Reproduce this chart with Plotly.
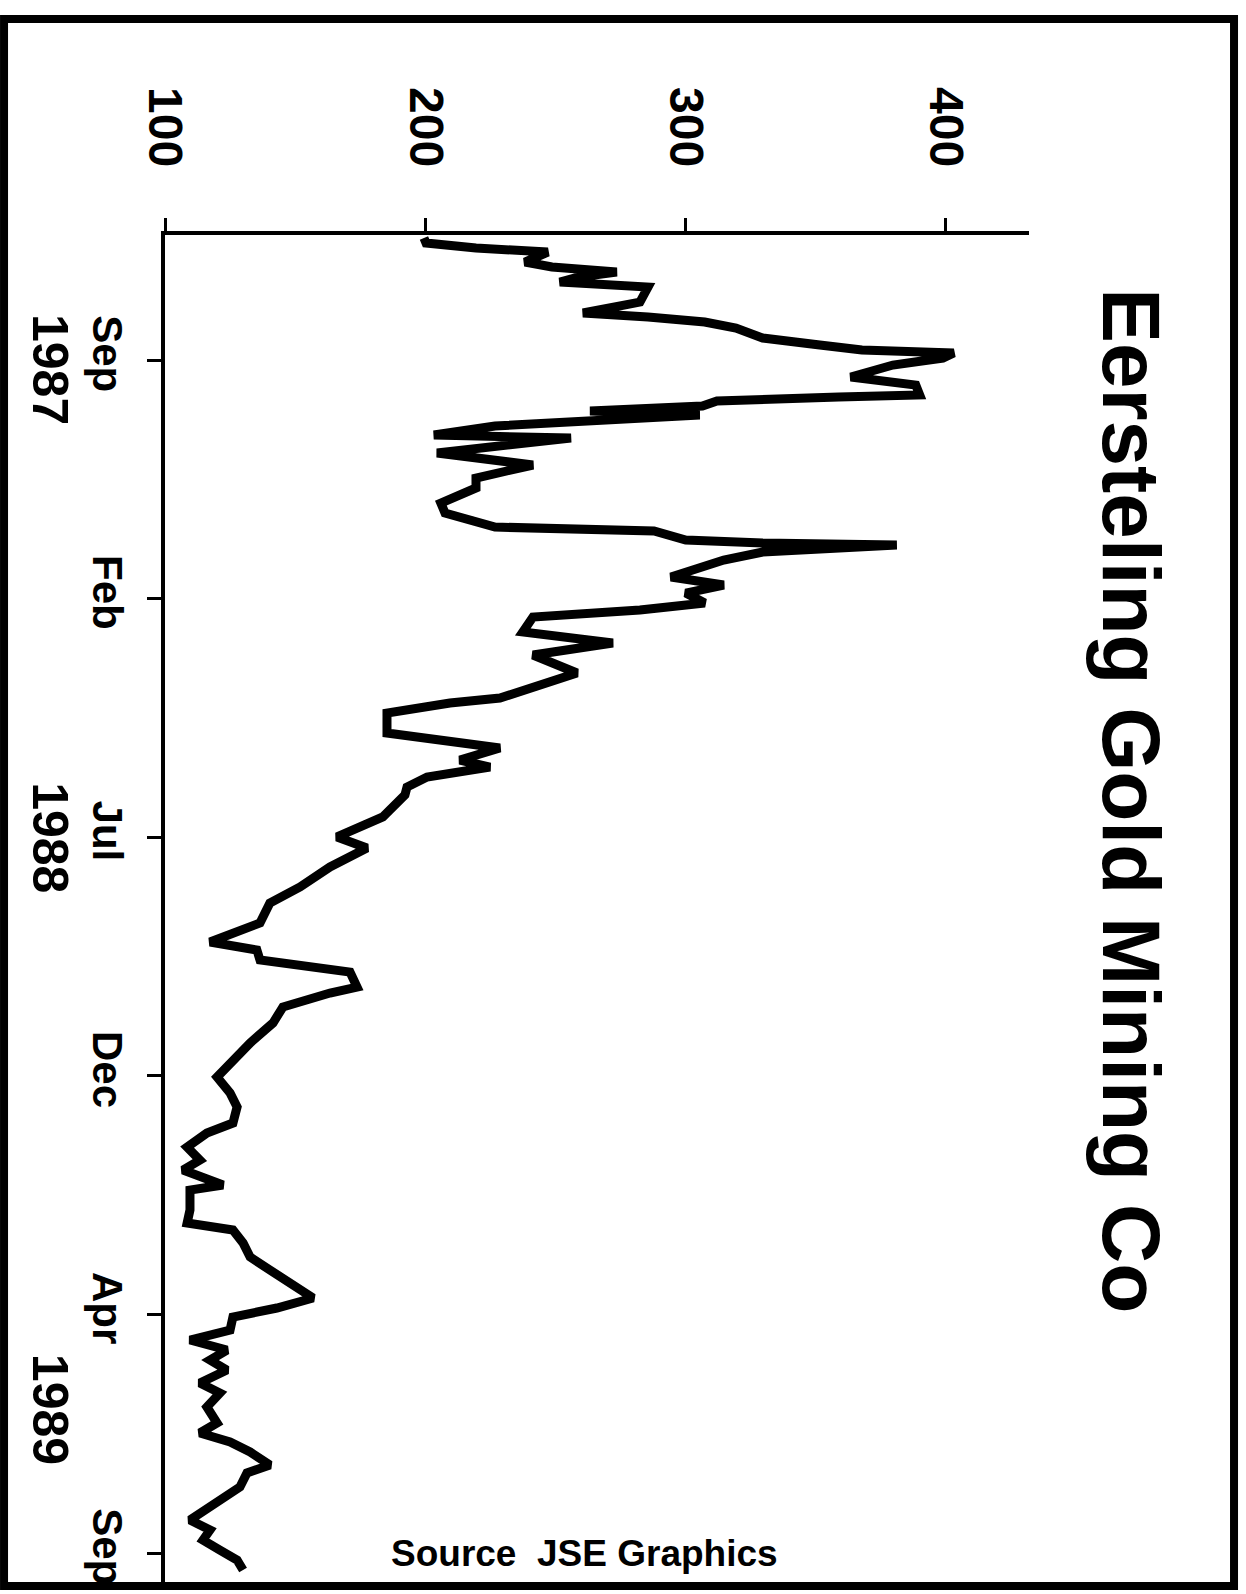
import plotly.graph_objects as go

# time in tick-interval months from Sep 1987 (ticks evenly spaced on the original)
t = [-2.557, -2.452, -2.347, -2.263, -2.054, -1.949, -1.844, -1.739, -1.634, -1.530,
     -1.215, -0.985, -0.901, -0.796, -0.671, -0.461, -0.314, -0.210, -0.147, -0.042,
     0.105, 0.356, 0.524, 0.733, 0.775, 0.817, 0.859, 0.964, 1.069, 1.153, 1.300, 1.383,
     1.572, 1.634, 1.949, 2.200, 2.472, 2.682, 2.997, 3.206, 3.500, 3.541, 3.583, 3.772,
     3.835, 3.877, 4.023, 4.191, 4.547, 4.715, 4.883, 5.092, 5.239, 5.386, 5.700, 5.930,
     6.182, 6.559, 6.852, 7.083, 7.188, 7.397, 7.816, 7.963, 8.131, 8.382, 8.529, 8.738,
     8.948, 9.115, 9.576, 9.995, 10.226, 10.624, 11.043, 11.379, 11.798, 12.196, 12.363,
     12.573, 12.741, 12.825, 13.139, 13.265, 13.558, 13.893, 14.312, 14.606, 15.025,
     15.360, 15.653, 15.989, 16.198, 16.492, 16.764, 16.974, 17.288, 17.393, 17.812,
     18.084, 18.231, 18.504, 18.797, 19.069, 19.342, 19.656, 19.866, 20.054, 20.327,
     20.536, 20.746, 20.955, 21.165, 21.437, 21.647, 21.940, 22.275, 22.485, 22.673,
     22.883, 23.155, 23.323, 23.616, 23.889, 24.161, 24.308, 24.517, 24.727, 24.937,
     25.146, 25.356]

price = [199.5, 200.3, 219.5, 247.1, 238.3, 248.7, 273.6, 259.0, 251.7, 285.6,
         282.5, 260.6, 285.6, 307.4, 319.4, 329.7, 351.6, 367.8, 403.1, 398.9,
         379.7, 363.5, 388.5, 390.0, 358.9, 329.7, 312.1, 306.5, 263.3, 305.5, 251.7, 226.8,
         203.3, 256.0, 204.5, 241.4, 219.5, 219.5, 206.0, 207.6, 226.8, 251.7, 287.9, 300.1,
         329.7, 381.2, 329.7, 314.7, 294.4, 314.7, 300.1, 307.4, 282.5, 241.4, 237.5, 272.1,
         241.4, 258.3, 241.4, 228.7, 209.5, 185.3, 185.3, 203.0, 228.7, 213.3, 224.9, 200.7,
         193.0, 192.2, 183.7, 166.1, 177.6, 163.4, 151.9, 140.3, 136.5, 117.3, 135.3,
         136.5, 158.4, 171.1, 173.8, 163.4, 145.3, 141.5, 132.7, 127.7, 120.0,
         125.0, 127.7, 126.1, 116.1, 108.5, 113.4, 106.9, 122.3, 109.6, 109.6,
         108.5, 126.1, 130.0, 132.7, 140.3, 148.0, 156.9, 143.0, 126.1, 125.0,
         109.6, 123.8, 117.3, 123.8, 113.4, 121.1, 116.1, 120.0, 113.4, 125.0,
         132.7, 140.3, 131.5, 128.8, 121.1, 112.3, 109.6, 117.3, 114.6, 121.1,
         127.7, 130.0]

price_ticks = [100, 200, 300, 400]
month_ticks = [0, 5, 10, 15, 20, 25]
month_labels = ["Sep", "Feb", "Jul", "Dec", "Apr", "Sep"]
year_pos = [0.19, 10.0, 21.98]
year_labels = ["1987", "1988", "1989"]

title_text = "Eersteling Gold Mining Co"
source_text = "Source\u00a0\u00a0JSE Graphics"

FONT = "Liberation Sans"

fig = go.Figure()
fig.add_trace(go.Scatter(x=price, y=t, mode="lines",
                         line=dict(color="black", width=9, shape="linear"),
                         hoverinfo="skip", showlegend=False))

fig.update_layout(
    template="none",
    width=1246, height=1594,
    margin=dict(l=165, r=217, t=235, b=9, pad=0),
    paper_bgcolor="white", plot_bgcolor="white",
    showlegend=False,
    xaxis=dict(range=[100, 432], side="top", tickvals=price_ticks,
               ticktext=[str(v) for v in price_ticks],
               tickangle=90, ticks="outside", ticklen=13, tickwidth=3,
               tickcolor="black", showline=True, linewidth=4, linecolor="black",
               showgrid=False, zeroline=False, ticklabelstandoff=34,
               tickfont=dict(family=FONT, size=48, color="black", weight="bold")),
    yaxis=dict(range=[25.67, -2.62], tickvals=month_ticks, ticktext=month_labels,
               tickangle=90, ticks="outside", ticklen=14, tickwidth=3,
               tickcolor="black", showline=True, linewidth=4, linecolor="black",
               showgrid=False, zeroline=False, ticklabelstandoff=4,
               tickfont=dict(family=FONT, size=42, color="black", weight="bold")),
)

for yp, lab in zip(year_pos, year_labels):
    fig.add_annotation(x=-0.133, xref="paper", y=yp, yref="y", text=lab,
                       textangle=90, showarrow=False, xanchor="center", yanchor="middle",
                       font=dict(family=FONT, size=50, color="black", weight="bold"))

fig.add_annotation(x=1.119, xref="paper", y=0.5807, yref="paper", text=title_text,
                   textangle=90, showarrow=False, xanchor="center", yanchor="middle",
                   font=dict(family=FONT, size=82, color="black", weight="bold"))

fig.add_annotation(x=0.486, xref="paper", y=0.0237, yref="paper", text=source_text,
                   showarrow=False, xanchor="center", yanchor="middle",
                   font=dict(family=FONT, size=37, color="black", weight="bold"))

# outer frame
fig.add_shape(type="rect", xref="paper", yref="paper",
              x0=-0.1863, x1=1.2373, y0=-0.0007, y1=1.16,
              line=dict(color="black", width=8), fillcolor="rgba(0,0,0,0)", layer="above")

fig.write_html("out.html",
               config={"displayModeBar": False, "staticPlot": True},
               post_script="document.body.style.margin='0';document.body.style.overflow='hidden';")
